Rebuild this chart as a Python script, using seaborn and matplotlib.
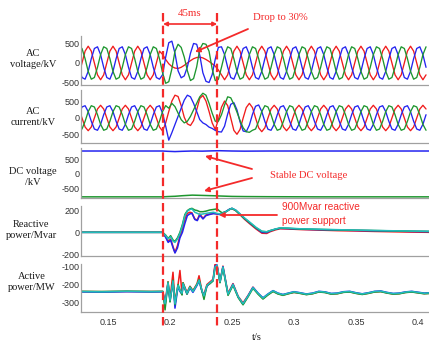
import numpy as np
import matplotlib
matplotlib.use("Agg")
import matplotlib.pyplot as plt
import seaborn as sns
from matplotlib.lines import Line2D
from matplotlib.patches import FancyArrowPatch
from matplotlib.transforms import blended_transform_factory

# ---------------- data ----------------
# AC waveforms sampled every 2.5 ms from t = 0.1265 s to 0.4065 s (113 samples)
t_ac = np.linspace(0.1265, 0.4065, 113)

v_red = [-304, 0, 304, 430, 304, 0, -304, -430, -304, 0, 304, 430, 304, 0, -304, -430,
         -304, 0, 304, 430, 304, 0, -304, -430, -304, 0, 304,
         220, 90, -20, -90, -130, -140, -110, -60, 0, 60, 110, 140, 150, 130, 90, 40, -20, -80, -180,
         -304, -430, -304, 0, 304, 430, 304, 0, -304, -430, -304, 0, 304, 430, 304, 0,
         -304, -430, -304, 0, 304, 430, 304, 0, -304, -430, -304, 0, 304, 430, 304, 0,
         -304, -430, -304, 0, 304, 430, 304, 0, -304, -430, -304, 0, 304, 430, 304, 0,
         -304, -430, -304, 0, 304, 430, 304, 0, -304, -430, -304, 0, 304, 430, 304, 0,
         -304, -430, -304]
v_blue = [-111, -372, -415, -215, 111, 372, 415, 215, -111, -372, -415, -215, 111, 372, 415, 215,
          -111, -372, -415, -215, 111, 372, 415, 215, -111, -372, -415,
          -300, 150, 520, 560, 250, -200, -380, -330, -100, 250, 500, 480, 200, -250, -470, -500, -300, 100, 400,
          415, 215, -111, -372, -415, -215, 111, 372, 415, 215, -111, -372, -415, -215, 111, 372,
          415, 215, -111, -372, -415, -215, 111, 372, 415, 215, -111, -372, -415, -215, 111, 372,
          415, 215, -111, -372, -415, -215, 111, 372, 415, 215, -111, -372, -415, -215, 111, 372,
          415, 215, -111, -372, -415, -215, 111, 372, 415, 215, -111, -372, -415, -215, 111, 372,
          415, 215, -111]
v_green = [415, 372, 111, -215, -415, -372, -111, 215, 415, 372, 111, -215, -415, -372, -111, 215,
           415, 372, 111, -215, -415, -372, -111, 215, 415, 372, 111,
           -250, -520, -480, -150, 300, 480, 400, 150, -200, -450, -400, -100, 350, 500, 480, 300, -150, -450, -420,
           -111, 215, 415, 372, 111, -215, -415, -372, -111, 215, 415, 372, 111, -215, -415, -372,
           -111, 215, 415, 372, 111, -215, -415, -372, -111, 215, 415, 372, 111, -215, -415, -372,
           -111, 215, 415, 372, 111, -215, -415, -372, -111, 215, 415, 372, 111, -215, -415, -372,
           -111, 215, 415, 372, 111, -215, -415, -372, -111, 215, 415, 372, 111, -215, -415, -372,
           -111, 215, 415]

i_red = [276, 0, -276, -390, -276, 0, 276, 390, 276, 0, -276, -390, -276, 0, 276, 390,
         276, 0, -276, -390, -276, 0, 276, 390, 276, 0, -276,
         -400, -150, 200, 520, 700, 660, 380, 20, -180, -230, -80, 250, 600, 690, 520, 200, -150, -350, -50,
         330, 520, 380, 0, -380, -500, -350, 0, 320, 450, 320, 0, -300, -420, -300, 0,
         276, 390, 276, 0, -276, -390, -276, 0, 276, 390, 276, 0, -276, -390, -276, 0,
         276, 390, 276, 0, -276, -390, -276, 0, 276, 390, 276, 0, -276, -390, -276, 0,
         276, 390, 276, 0, -276, -390, -276, 0, 276, 390, 276, 0, -276, -390, -276, 0,
         276, 390, 276]
i_blue = [101, 338, 377, 195, -101, -338, -377, -195, 101, 338, 377, 195, -101, -338, -377, -195,
          101, 338, 377, 195, -101, -338, -377, -195, 101, 338, 377,
          150, -250, -680, -450, -200, 50, 300, 550, 700, 650, 450, 200, -50, -150, -200, -280, -320, -380, -420,
          -430, -250, 120, 420, 470, 250, -120, -400, -420, -220, 110, 360, 400, 200, -105, -345,
          -377, -195, 101, 338, 377, 195, -101, -338, -377, -195, 101, 338, 377, 195, -101, -338,
          -377, -195, 101, 338, 377, 195, -101, -338, -377, -195, 101, 338, 377, 195, -101, -338,
          -377, -195, 101, 338, 377, 195, -101, -338, -377, -195, 101, 338, 377, 195, -101, -338,
          -377, -195, 101]
i_green = [-377, -338, -101, 195, 377, 338, 101, -195, -377, -338, -101, 195, 377, 338, 101, -195,
           -377, -338, -101, 195, 377, 338, 101, -195, -377, -338, -101,
           200, 380, 300, 450, 350, 150, -50, -150, -100, 50, 250, 450, 650, 760, 700, 450, 150, -100, -100,
           100, 400, 650, 620, 420, 180, -80, -300, -420, -440, -377, -338, -101, 195, 377, 338,
           101, -195, -377, -338, -101, 195, 377, 338, 101, -195, -377, -338, -101, 195, 377, 338,
           101, -195, -377, -338, -101, 195, 377, 338, 101, -195, -377, -338, -101, 195, 377, 338,
           101, -195, -377, -338, -101, 195, 377, 338, 101, -195, -377, -338, -101, 195, 377, 338,
           101, -195, -377]

# DC voltage
t_dc = [0.126, 0.194, 0.198, 0.204, 0.210, 0.218, 0.226, 0.234, 0.240, 0.250, 0.260, 0.280, 0.320, 0.360, 0.410]
dc_pos = [800, 800, 790, 780, 790, 800, 795, 805, 810, 800, 795, 800, 800, 800, 800]
dc_neg = [-800, -800, -790, -780, -760, -740, -750, -760, -770, -785, -790, -795, -800, -800, -800]

# Reactive power
t_q = [0.126, 0.194, 0.1965, 0.1985, 0.2005, 0.2025, 0.204, 0.206, 0.208, 0.210, 0.212, 0.214, 0.216,
       0.2177, 0.220, 0.222, 0.224, 0.2266, 0.229, 0.232, 0.235, 0.238, 0.240, 0.242, 0.2452, 0.248,
       0.250, 0.253, 0.2565, 0.260, 0.2645, 0.2694, 0.2742, 0.278, 0.2806, 0.285, 0.2887, 0.295,
       0.305, 0.32, 0.335, 0.35, 0.365, 0.38, 0.395, 0.41]
q_red = [0, 0, -40, -80, -60, -130, -180, -120, -30, 30, 120, 170, 180, 175, 120, 110, 165, 125, 155,
         165, 170, 165, 160, 168, 185, 205, 212, 195, 158, 118, 75, 30, -8, -10, 5, 22, 32, 30, 25,
         20, 15, 12, 8, 5, 2, 0]
q_blue = [0, 0, -45, -90, -70, -140, -185, -140, -50, 0, 80, 150, 165, 170, 115, 105, 155, 120, 150,
          160, 168, 165, 160, 170, 188, 208, 215, 198, 162, 125, 82, 38, 0, -2, 12, 28, 36, 34, 28,
          24, 20, 17, 14, 11, 8, 6]
q_green = [0, 0, -25, -55, -30, -70, -80, -50, 0, 70, 160, 195, 210, 215, 200, 195, 185, 185, 190,
           200, 205, 210, 190, 175, 185, 205, 215, 195, 160, 125, 85, 40, 8, 5, 15, 28, 38, 36, 30,
           26, 22, 19, 16, 13, 10, 8]
q_cyan = [0, 0, -30, -60, -40, -80, -90, -60, -10, 60, 150, 190, 205, 210, 180, 170, 160, 165, 170,
          175, 180, 170, 165, 170, 185, 205, 215, 200, 165, 130, 90, 45, 10, 5, 15, 30, 40, 38, 32,
          28, 24, 20, 17, 14, 11, 9]

# Active power
t_p = [0.126, 0.145, 0.165, 0.185, 0.1942, 0.196, 0.1984, 0.200, 0.2024, 0.204, 0.2065, 0.208, 0.2097,
       0.2105, 0.2137, 0.2161, 0.2185, 0.2218, 0.2234, 0.2258, 0.2274, 0.2298, 0.2323, 0.2347, 0.2363,
       0.2379, 0.2403, 0.2427, 0.2468, 0.2508, 0.2550, 0.2589, 0.2630, 0.2669, 0.2710, 0.2750, 0.2790,
       0.2831, 0.2870, 0.2911, 0.2955, 0.300, 0.305, 0.310, 0.315, 0.320, 0.325, 0.330, 0.335, 0.340,
       0.345, 0.350, 0.355, 0.360, 0.365, 0.370, 0.375, 0.380, 0.385, 0.390, 0.395, 0.400, 0.405, 0.410]
p_red = [-240, -241, -240, -240, -240, -300, -185, -285, -130, -300, -200, -120, -255, -190, -245,
         -210, -235, -195, -150, -240, -255, -200, -185, -170, -85, -92, -180, -95, -250, -195, -268,
         -305, -262, -215, -252, -280, -258, -238, -252, -260, -252, -245, -250, -257, -252, -242,
         -245, -254, -252, -244, -242, -250, -256, -250, -242, -240, -248, -254, -252, -245, -242,
         -247, -252, -250]
p_blue = [-242, -244, -241, -243, -242, -320, -195, -295, -185, -335, -210, -240, -255, -200, -255,
          -220, -245, -205, -180, -240, -268, -210, -192, -178, -95, -88, -188, -98, -258, -198, -272,
          -312, -264, -216, -249, -276, -254, -235, -249, -257, -249, -241, -247, -254, -249, -239,
          -242, -251, -249, -241, -239, -247, -253, -247, -239, -237, -245, -251, -249, -242, -239,
          -244, -249, -247]
p_green = [-239, -240, -238, -240, -239, -345, -185, -300, -175, -315, -200, -230, -260, -190, -255,
           -212, -238, -198, -172, -238, -285, -205, -195, -180, -105, -95, -190, -105, -262, -205,
           -275, -316, -270, -222, -255, -283, -260, -240, -254, -262, -253, -245, -251, -258, -253,
           -243, -246, -255, -253, -245, -243, -251, -257, -251, -243, -241, -249, -255, -253, -246,
           -243, -248, -253, -251]
p_cyan = [-240, -242, -239, -241, -240, -310, -190, -290, -180, -310, -205, -235, -250, -195, -250,
          -215, -240, -200, -175, -235, -265, -205, -190, -175, -100, -90, -185, -100, -255, -200,
          -270, -310, -265, -218, -250, -278, -255, -236, -250, -258, -250, -242, -248, -255, -250,
          -240, -243, -252, -250, -242, -240, -248, -254, -248, -240, -238, -246, -252, -250, -243,
          -240, -245, -250, -248]

fault_times = [0.1944, 0.238]
x_ticks = [0.15, 0.2, 0.25, 0.3, 0.35, 0.4]
x_tick_labels = ["0.15", "0.2", "0.25", "0.3", "0.35", "0.4"]
panel_labels = ["AC\nvoltage/kV", "AC\ncurrent/kV", "DC voltage\n/kV", "Reactive\npower/Mvar", "Active\npower/MW"]
panel_yticks = [[-500, 0, 500], [-500, 0, 500], [-500, 0, 500], [-200, 0, 200], [-300, -200, -100]]

# ---------------- style ----------------
sns.set_theme(style="white")
plt.rcParams["font.family"] = ["Liberation Sans", "DejaVu Sans"]
plt.rcParams["axes.unicode_minus"] = False

RED = "#f01c1c"
BLUE = "#2424f0"
GREEN = "#1d962e"
CYAN = "#22bcbc"
ANN = "#f42a2a"
SERIF = ["Liberation Serif", "DejaVu Serif"]

W_PX, H_PX = 429, 342
fig = plt.figure(figsize=(W_PX / 100, H_PX / 100), dpi=100)

def rect(top, bottom, left=81):
    return [left / W_PX, 1 - bottom / H_PX, (W_PX - left) / W_PX, (bottom - top) / H_PX]

axes = [fig.add_axes(rect(36, 85)), fig.add_axes(rect(90, 143)), fig.add_axes(rect(148, 198)),
        fig.add_axes(rect(206, 256)), fig.add_axes(rect(264, 312))]
ylims = [(-564, 692), (-767, 859), (-840, 905), (-212, 236), (-357, -83)]

def line(ax, x, y, c, lw=0.95):
    sns.lineplot(x=x, y=y, ax=ax, color=c, linewidth=lw, estimator=None, sort=False, legend=False)

line(axes[0], t_ac, v_red, RED)
line(axes[0], t_ac, v_blue, BLUE)
line(axes[0], t_ac, v_green, GREEN)

line(axes[1], t_ac, i_red, RED)
line(axes[1], t_ac, i_blue, BLUE)
line(axes[1], t_ac, i_green, GREEN)

line(axes[2], t_dc, dc_pos, BLUE, 1.1)
line(axes[2], t_dc, dc_neg, GREEN, 1.1)

line(axes[3], t_q, q_red, RED, 1.1)
line(axes[3], t_q, q_blue, BLUE, 1.1)
line(axes[3], t_q, q_green, GREEN, 1.1)
line(axes[3], t_q, q_cyan, CYAN, 1.1)

line(axes[4], t_p, p_red, RED, 1.1)
line(axes[4], t_p, p_blue, BLUE, 1.1)
line(axes[4], t_p, p_green, GREEN, 1.1)
line(axes[4], t_p, p_cyan, CYAN, 1.1)

label_pos = [(33, 59), (33, 117), (33, 177), (31, 230), (32, 282)]
for i, ax in enumerate(axes):
    ax.set_xlim(0.1282, 0.4089)
    ax.set_ylim(*ylims[i])
    ax.set_yticks(panel_yticks[i])
    ax.set_yticklabels([str(v) for v in panel_yticks[i]])
    ax.set_xticks(x_ticks)
    if i == 4:
        ax.set_xticklabels(x_tick_labels)
    else:
        ax.set_xticklabels([])
    ax.set_xlabel("")
    ax.set_ylabel("")
    for s in ["top", "right"]:
        ax.spines[s].set_visible(False)
    for s in ["left", "bottom"]:
        ax.spines[s].set_color("#a0a0a0")
        ax.spines[s].set_linewidth(0.9)
    ax.tick_params(axis="both", direction="in", length=2.5, width=0.6, color="#888888",
                   labelsize=6.5, labelcolor="#333333")
    ax.tick_params(axis="y", pad=1.0)
    ax.tick_params(axis="x", pad=4)
    ax.set_facecolor("white")
    lx, ly = label_pos[i]
    fig.text(lx / W_PX, 1 - ly / H_PX, panel_labels[i], ha="center", va="center",
             multialignment="center", fontsize=7.5, family=SERIF, color="#1a1a1a", linespacing=1.4)

fig.text(257 / W_PX, 1 - 337 / H_PX, "t/s", ha="center", va="center", fontsize=7.5,
         family=SERIF, color="#1a1a1a")

# fault markers
btr = blended_transform_factory(axes[4].transData, fig.transFigure)
for ft in fault_times:
    fig.add_artist(Line2D([ft, ft], [1 - 13 / H_PX, 1 - 328 / H_PX], transform=btr, color=ANN,
                          lw=1.6, linestyle=(0, (3.8, 1.9)), zorder=5))

fig.add_artist(FancyArrowPatch((fault_times[0], 1 - 24 / H_PX), (fault_times[1], 1 - 24 / H_PX),
                               transform=btr, arrowstyle="<|-|>", mutation_scale=6, color=ANN,
                               lw=1.2, shrinkA=0, shrinkB=0, zorder=6))
fig.text(190 / W_PX, 1 - 14 / H_PX, "45ms", ha="center", va="center", fontsize=7.8,
         family=SERIF, color=ANN)

def P(x, y):
    return (x / W_PX, 1 - y / H_PX)

def arrow(p0, p1):
    fig.add_artist(FancyArrowPatch(P(*p0), P(*p1), transform=fig.transFigure, arrowstyle="-|>",
                                   mutation_scale=7, color=ANN, lw=1.3, shrinkA=0, shrinkB=0,
                                   zorder=6))

fig.text(280 / W_PX, 1 - 18 / H_PX, "Drop to 30%", ha="center", va="center", fontsize=7.7,
         family=SERIF, color=ANN)
arrow((248, 29), (195, 52))

fig.text(309 / W_PX, 1 - 176 / H_PX, "Stable DC voltage", ha="center", va="center", fontsize=7.6,
         family=SERIF, color=ANN)
arrow((252, 169), (205, 156))
arrow((252, 178), (204, 191))

fig.text(282 / W_PX, 1 - 207 / H_PX, "900Mvar reactive", ha="left", va="center", fontsize=7.3,
         family=["Liberation Sans", "DejaVu Sans"], color=ANN)
fig.text(282 / W_PX, 1 - 221 / H_PX, "power support", ha="left", va="center", fontsize=7.3,
         family=["Liberation Sans", "DejaVu Sans"], color=ANN)
arrow((277, 215), (219, 215))

fig.savefig("out.png", dpi=100, facecolor="white")
